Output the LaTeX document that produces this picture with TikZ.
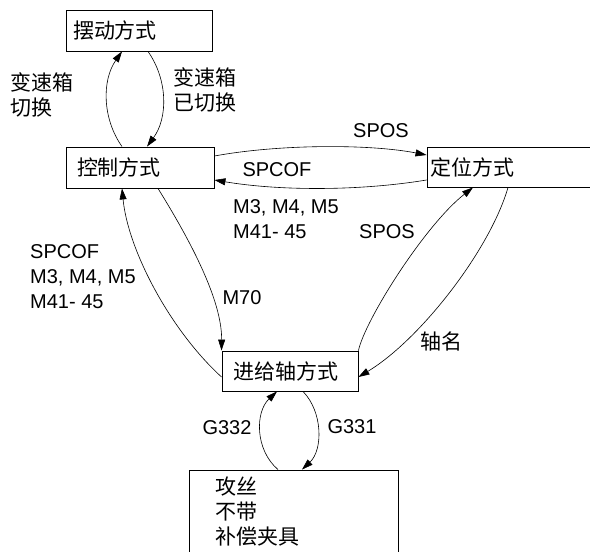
\documentclass[tikz,border=0pt]{standalone}
\usepackage{fontspec}
\setmainfont{Liberation Sans}
\newfontfamily\cjk{Noto Sans CJK SC}
\usetikzlibrary{arrows.meta}
\begin{document}
\begin{tikzpicture}[x=1pt,y=-1pt,
  box/.style={draw, line width=0.9pt, rectangle, align=left, inner ysep=0pt,
    font=\cjk\fontsize{21}{25}\selectfont},
  cjklab/.style={align=left, inner sep=0pt, font=\cjk\fontsize{21}{25}\selectfont},
  lab/.style={align=left, inner sep=0pt, font=\fontsize{20}{25}\selectfont},
  arr/.style={line width=0.6pt, -{Triangle[length=11pt,width=7pt]}}]
\useasboundingbox (0,0) rectangle (590,552);
\clip (0,0) rectangle (590,552);
% boxes
\node[box, inner xsep=7pt, text width=132pt, minimum height=41pt] (bd) at (139,30.5) {摆动方式};
\node[box, inner xsep=11pt, text width=126pt, minimum height=41pt] (ctrl) at (140,167.5) {控制方式};
\node[box, inner xsep=3pt, text width=167pt, minimum height=40pt] (pos) at (513.5,167) {定位方式};
\node[box, inner xsep=11pt, text width=114pt, minimum height=40pt] (feed) at (290,371) {进给轴方式};
\node[box, minimum width=209pt, minimum height=110pt] (tap) at (293.5,525) {};
\node[cjklab, anchor=west] (tapt) at (215,512) {攻丝\\不带\\补偿夹具};
% connectors
\draw[arr] ([xshift=-18pt]ctrl.north) .. controls (102,118) and (102,80) .. ([xshift=-17pt]bd.south);
\draw[arr] ([xshift=9pt]bd.south) .. controls (168,80) and (168,118) .. ([xshift=7pt]ctrl.north);
\draw[arr] ([yshift=11.5pt]ctrl.east) .. controls (280,144) and (370,144) .. ([yshift=12pt]pos.west);
\draw[arr] ([yshift=-13pt]pos.west) .. controls (360,191) and (280,191) .. ([yshift=-12.5pt]ctrl.east);
\draw[arr] ([xshift=18pt]ctrl.south) .. controls (190,240) and (222,300) .. (feed.north west);
\draw[arr] ([yshift=-6pt]feed.west) .. controls (170,330) and (128,250) .. ([xshift=-18pt]ctrl.south);
\draw[arr] (feed.north east) .. controls (365,320) and (425,225) .. ([xshift=-40.5pt]pos.south);
\draw[arr] ([xshift=-5.5pt]pos.south) .. controls (490,250) and (420,340) .. ([yshift=-6pt]feed.east);
\draw[arr] ([xshift=-15.5pt]tap.north) .. controls (255,450) and (255,412) .. ([xshift=-13pt]feed.south);
\draw[arr] ([xshift=13pt]feed.south) .. controls (323,412) and (323,450) .. ([xshift=8.5pt]tap.north);
% labels
\node[cjklab, anchor=west] (l1) at (10,95) {变速箱\\切换};
\node[cjklab, anchor=west] (l2) at (173,89.5) {变速箱\\已切换};
\node[lab] (l3) at (381,131) {SPOS};
\node[lab] (l4) at (277,170) {SPCOF};
\node[lab, anchor=west] (l5) at (233,219.5) {M3, M4, M5\\M41- 45};
\node[lab] (l6) at (387,231.5) {SPOS};
\node[lab, anchor=west] (l7) at (30,277) {SPCOF\\M3, M4, M5\\M41- 45};
\node[lab] (l8) at (242,298) {M70};
\node[cjklab] (l9) at (441,341) {轴名};
\node[lab] (l10) at (227,428) {G332};
\node[lab] (l11) at (352,427) {G331};
\end{tikzpicture}
\end{document}
